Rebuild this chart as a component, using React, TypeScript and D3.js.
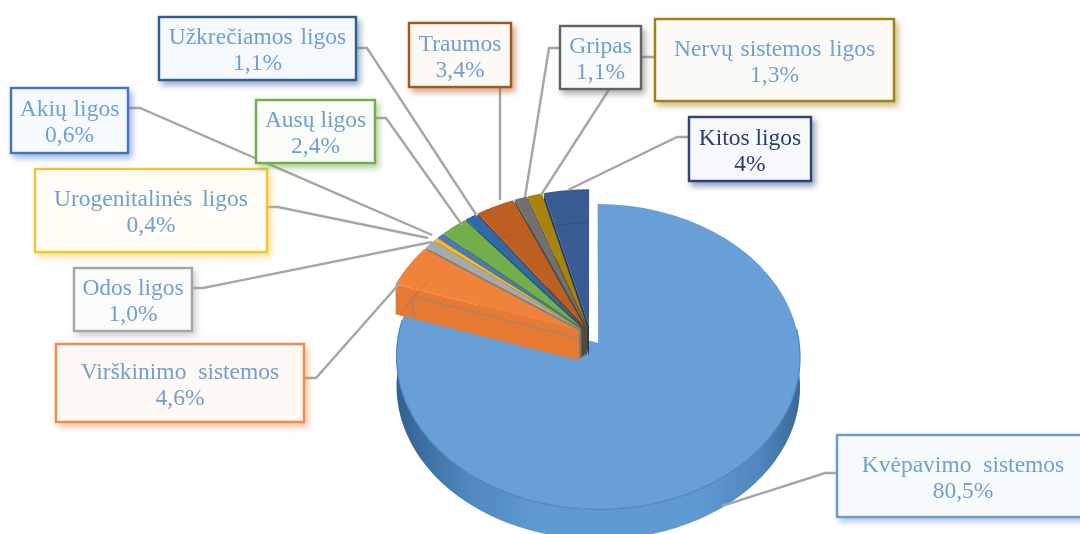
import React from "react";
import * as d3 from "d3";

const categories = ["Kvėpavimo sistemos", "Virškinimo sistemos", "Odos ligos", "Urogenitalinės ligos", "Akių ligos", "Ausų ligos", "Užkrečiamos ligos", "Traumos", "Gripas", "Nervų sistemos ligos", "Kitos ligos"];
const values = [80.5, 4.6, 1.0, 0.4, 0.6, 2.4, 1.1, 3.4, 1.1, 1.3, 4];
const valueLabels = ["80,5%", "4,6%", "1,0%", "0,4%", "0,6%", "2,4%", "1,1%", "3,4%", "1,1%", "1,3%", "4%"];

const topColors = ["#689fd7", "#f0833a", "#a9a9a9", "#f7bb1c", "#4a78c4", "#72ae4a", "#2f6aa8", "#bd5f22", "#6f6f6f", "#a8830f", "#385c92"];
const wallColors = ["#4f81b8", "#e67a30", "#7d7d7d", "#b98c10", "#32558f", "#4f7d33", "#234f7e", "#7f3d12", "#4a4a4a", "#6f5708", "#203a60"];
const borderColors = ["#6a9bcb", "#ee8a4e", "#a5a5a5", "#f2c433", "#4472c4", "#72ad4c", "#2f5f8f", "#a8551f", "#636363", "#a0800f", "#2b4479"];
const boxFills = ["#f8fbfd", "#fef9f5", "#fbfbfb", "#fffdf6", "#f7fafd", "#fafcf8", "#f6f9fc", "#fdf9f5", "#f8fafc", "#fcfaf6", "#f6f8fb"];

// box: x0, y0, x1, y1; leader polyline in page pixels; ws: extra word spacing of the first line
const labelLayout: { box: number[]; leader: number[][]; ws: number }[] = [
  { box: [837, 435, 1084, 517], leader: [[837, 473], [825, 473], [722, 506]], ws: 6 },
  { box: [56, 344, 304, 422], leader: [[304, 378], [316, 378], [400, 283]], ws: 6 },
  { box: [74, 268, 192, 331], leader: [[192, 288], [203, 288], [432, 242]], ws: 0 },
  { box: [35, 169, 267, 252], leader: [[267, 207], [278, 207], [428, 238]], ws: 4 },
  { box: [11, 88, 128, 153], leader: [[128, 108], [140, 108], [432, 235]], ws: 1 },
  { box: [256, 100, 375, 163], leader: [[375, 118], [386, 118], [462, 225]], ws: 0 },
  { box: [159, 17, 356, 80], leader: [[356, 48], [367, 48], [477, 216]], ws: 2 },
  { box: [409, 23, 511, 87], leader: [[500, 87], [500, 200]], ws: 0 },
  { box: [560, 26, 641, 89], leader: [[560, 48], [549, 48], [525, 197]], ws: 0 },
  { box: [655, 19, 894, 101], leader: [[655, 57], [630, 57], [541, 195]], ws: 2 },
  { box: [689, 117, 811, 181], leader: [[689, 137], [677, 137], [568, 190]], ws: 0 },
];

const CX = 590.6, CY = 335, A = 150, B = 200, K = 0.09, EXPLODE = 0.065, DEPTH = 30;
const sx = d3.scaleLinear().domain([0, 1]).range([0, B]);
const sy = d3.scaleLinear().domain([0, 1]).range([0, A]);
const project = (u: number, v: number): [number, number] => {
  const w = 1 + K * v;
  return [CX + sx(u) / w, CY - sy(v) / w];
};

const pieGen = d3.pie<number>().sort(null).startAngle(0).endAngle(2 * Math.PI);
const arcs = pieGen(values);
const line = d3.line<number[]>().x((d) => d[0]).y((d) => d[1]);

const origin = (a: d3.PieArcDatum<number>) => {
  const m = (a.startAngle + a.endAngle) / 2;
  return [EXPLODE * Math.sin(m), EXPLODE * Math.cos(m)];
};
const rimPoint = (a: d3.PieArcDatum<number>, t: number, r = 1, dy = 0): [number, number] => {
  const o = origin(a);
  const p = project(o[0] + r * Math.sin(t), o[1] + r * Math.cos(t));
  return [p[0], p[1] + dy];
};
const rim = (a: d3.PieArcDatum<number>, t0: number, t1: number, r = 1, dy = 0) =>
  d3.range(0, 61).map((i) => rimPoint(a, t0 + ((t1 - t0) * i) / 60, r, dy));
const apex = (a: d3.PieArcDatum<number>, dy = 0): [number, number] => {
  const o = origin(a);
  const p = project(o[0], o[1]);
  return [p[0], p[1] + dy];
};
const topFace = (a: d3.PieArcDatum<number>, r = 1, dy = 0) =>
  line([apex(a, dy), ...rim(a, a.startAngle, a.endAngle, r, dy)]) + "Z";
const startWall = (a: d3.PieArcDatum<number>) =>
  line([apex(a), rimPoint(a, a.startAngle), rimPoint(a, a.startAngle, 1, DEPTH), apex(a, DEPTH)]) + "Z";

const mainArc = arcs[0];
const smallArcs = arcs.slice(1);
const wallT0 = Math.PI * 0.47;
const wallT1 = Math.min(mainArc.endAngle, Math.PI * 1.55);
const mainWall = line([...rim(mainArc, wallT0, wallT1), ...rim(mainArc, wallT1, wallT0, 1, DEPTH)]) + "Z";
const mainEdge = line(rim(mainArc, wallT0, wallT1)) as string;
const orangeGhost = (() => {
  const a = smallArcs[0];
  const corner = rimPoint(a, a.startAngle, 0.91, 8);
  return line([apex(a, 8), corner, [corner[0] + 2, corner[1] + 22]]) as string;
})();

export default function App() {
  return (
    <svg width={1080} height={534} style={{ position: "absolute", left: 0, top: 0, background: "#fff" }} fontFamily="'Liberation Serif', serif">
      <defs>
        <linearGradient id="wall" x1="0" x2="1" y1="0" y2="0">
          <stop offset="0" stopColor="#34608e" />
          <stop offset="0.18" stopColor="#5088c0" />
          <stop offset="0.35" stopColor="#5f9ad3" />
          <stop offset="0.75" stopColor="#5f9ad3" />
          <stop offset="0.9" stopColor="#4f86bd" />
          <stop offset="1" stopColor="#3c6994" />
        </linearGradient>
        <clipPath id="mainClip">
          <path d={topFace(mainArc)} />
        </clipPath>
        <filter id="soft" x="-5%" y="-5%" width="110%" height="110%">
          <feGaussianBlur stdDeviation="0.5" />
        </filter>
        <filter id="softText" x="-5%" y="-20%" width="110%" height="140%">
          <feGaussianBlur stdDeviation="0.3" />
        </filter>
      </defs>

      <g filter="url(#soft)">
        <path d={mainWall} fill="url(#wall)" />
        <path d={topFace(mainArc)} fill={topColors[0]} />
        <path d={mainEdge} fill="none" stroke="#4d86c0" strokeWidth={1.2} />
        <g clipPath="url(#mainClip)">
          <path d={topFace(mainArc, 0.96, DEPTH)} fill="none" stroke="#629cd5" strokeWidth={1} />
        </g>
        {[...smallArcs].reverse().map((a) => (
          <g key={a.index}>
            <path d={startWall(a)} fill={wallColors[a.index]} />
            <path d={topFace(a)} fill={topColors[a.index]} />
            <path d={line(rim(a, a.startAngle, a.endAngle, 0.97, DEPTH)) as string} fill="none" stroke="#000" strokeOpacity={0.12} strokeWidth={1} />
          </g>
        ))}
        <path d={orangeGhost} fill="none" stroke="#8f8a86" strokeWidth={1.4} opacity={0.8} />
      </g>

      {labelLayout.map((l, i) => (
        <path key={i} d={line(l.leader) as string} fill="none" stroke="#a6a6a6" strokeWidth={2.4} />
      ))}

      {labelLayout.map((l, i) => {
        const [x0, y0, x1, y1] = l.box;
        const cx = i === 0 ? 963 : (x0 + x1) / 2;
        const cy = (y0 + y1) / 2;
        const textColor = i === 10 ? "#2a3e6e" : "#6f9fd2";
        return (
          <g key={i}>
            <rect x={x0} y={y0} width={x1 - x0} height={y1 - y0} fill={boxFills[i]} stroke={borderColors[i]} strokeWidth={2.4}
              style={{ filter: `drop-shadow(3px 4px 3px ${borderColors[i]}88)` }} />
            <g filter="url(#softText)">
              <text x={cx} y={cy - 4.5} textAnchor="middle" fontSize={23.5} fill={textColor} wordSpacing={l.ws}>{categories[i]}</text>
              <text x={cx} y={cy + 21.5} textAnchor="middle" fontSize={23.5} fill={textColor}>{valueLabels[i]}</text>
            </g>
          </g>
        );
      })}
    </svg>
  );
}
